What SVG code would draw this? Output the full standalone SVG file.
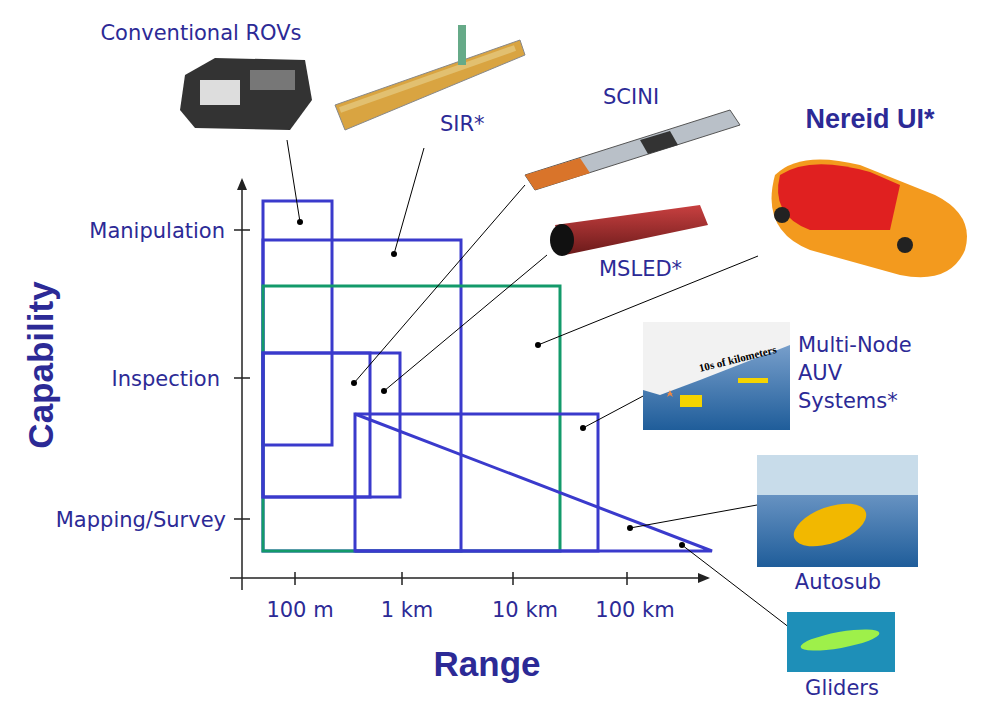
<svg xmlns="http://www.w3.org/2000/svg" width="986" height="701" viewBox="0 0 986 701">
<style>
.t{font-family:"DejaVu Sans","Liberation Sans",sans-serif;font-size:21px;fill:#2c2a96}
.k{font-family:"Liberation Sans",Arial,sans-serif;font-weight:bold;fill:#2c2a96}
.b{stroke:#3a3acc;stroke-width:3;fill:none}
.g{stroke:#139a6a;stroke-width:3;fill:none}
.l{stroke:#000;stroke-width:1}
.ax{stroke:#222;stroke-width:1.5}
</style>
<defs>
<marker id="ar" markerWidth="12" markerHeight="10" refX="10" refY="5" orient="auto" markerUnits="userSpaceOnUse"><path d="M0,0L12,5L0,10z" fill="#222"/></marker>
<linearGradient id="sea" x1="0" y1="0" x2="0" y2="1"><stop offset="0" stop-color="#8fb0d8"/><stop offset="1" stop-color="#1f5d9a"/></linearGradient>
<linearGradient id="red" x1="0" y1="0" x2="0" y2="1"><stop offset="0" stop-color="#c84040"/><stop offset="1" stop-color="#6a1a1a"/></linearGradient>
</defs>
<rect width="986" height="701" fill="#fff"/>
<g id="axes">
<line class="ax" x1="242" y1="590" x2="242" y2="180" marker-end="url(#ar)"/>
<line class="ax" x1="230" y1="578" x2="708" y2="578" marker-end="url(#ar)"/>
<path class="ax" d="M234,230H250M234,378H250M234,519H250M295,572V585M402,572V585M513,572V585M627,572V585"/>
<text class="t" x="225" y="238" text-anchor="end">Manipulation</text>
<text class="t" x="220" y="386" text-anchor="end">Inspection</text>
<text class="t" x="226" y="527" text-anchor="end">Mapping/Survey</text>
<text class="t" x="300" y="617" text-anchor="middle">100 m</text>
<text class="t" x="407" y="617" text-anchor="middle">1 km</text>
<text class="t" x="525" y="617" text-anchor="middle">10 km</text>
<text class="t" x="635" y="617" text-anchor="middle">100 km</text>
<text class="k" x="487" y="676" text-anchor="middle" font-size="35">Range</text>
<text class="k" transform="translate(53,365) rotate(-90)" text-anchor="middle" font-size="35">Capability</text>
</g>
<g id="regions">
<rect class="b" x="263" y="201" width="69" height="244"/>
<rect class="b" x="263" y="240" width="198" height="311"/>
<rect class="g" x="263" y="286" width="297" height="265"/>
<rect class="b" x="263" y="353" width="137" height="144"/>
<rect class="b" x="263" y="353" width="107" height="144"/>
<rect class="b" x="355" y="414" width="243" height="137"/>
<polyline class="b" points="355,414 712,551 355,551"/>
</g>
<g id="connectors">
<path class="l" d="M300,222L287,140M394,254L424,148M354,383L525,185M384,391L547,255M538,345L758,256M583,428L645,395M630,528L757,505M682,545L790,628"/>
<g fill="#000"><circle cx="300" cy="222" r="3"/><circle cx="394" cy="254" r="3"/><circle cx="354" cy="383" r="3"/><circle cx="384" cy="391" r="3"/><circle cx="538" cy="345" r="3"/><circle cx="583" cy="428" r="3"/><circle cx="630" cy="528" r="3"/><circle cx="682" cy="545" r="3"/></g>
</g>
<g id="rov"><text class="t" x="201" y="40" text-anchor="middle">Conventional ROVs</text>
<path d="M185,75L215,58L305,60L312,100L290,130L195,128L180,110z" fill="#333"/><rect x="200" y="80" width="40" height="25" fill="#ddd"/><rect x="250" y="70" width="45" height="20" fill="#777"/></g>
<g id="sir"><text class="t" x="440" y="131">SIR*</text>
<path d="M335,105L520,40L525,55L345,130z" fill="#d9a441" stroke="#888"/><path d="M340,110L515,48" stroke="#e2c070" stroke-width="6"/><rect x="458" y="25" width="8" height="40" fill="#6a8"/></g>
<g id="scini"><text class="t" x="603" y="104">SCINI</text>
<path d="M525,175L730,110L740,125L535,190z" fill="#b9c0c8" stroke="#555"/><path d="M525,175L580,158L590,173L535,190z" fill="#d9742a"/><path d="M640,140L670,131L678,145L648,154z" fill="#333"/></g>
<g id="msled"><text class="t" x="599" y="276">MSLED*</text>
<path d="M555,225L700,205L708,225L565,255z" fill="url(#red)"/><ellipse cx="562" cy="240" rx="12" ry="16" fill="#111"/></g>
<g id="nereid"><text class="k" x="870" y="128" text-anchor="middle" font-size="27">Nereid UI*</text>
<path d="M775,175Q800,150 860,165L935,195Q975,215 965,250Q950,285 900,275L810,250Q760,230 775,175z" fill="#f39a1e"/><path d="M780,175Q810,155 870,172L900,185L890,230L810,230Q770,215 780,175z" fill="#e02020"/><circle cx="782" cy="215" r="8" fill="#222"/><circle cx="905" cy="245" r="8" fill="#222"/></g>
<g id="multinode"><rect x="643" y="322" width="147" height="108" fill="url(#sea)"/><path d="M643,322H790V345L700,380L660,395L643,390z" fill="#f2f2f2"/><text x="700" y="372" style="font-family:'Liberation Serif',serif;font-size:11px;font-weight:bold" transform="rotate(-14 700 372)">10s of kilometers</text><rect x="680" y="395" width="22" height="12" fill="#f5d400"/><rect x="738" y="378" width="30" height="5" fill="#f5d400"/><path d="M667,397l3,-7l3,7l-6,-4h6z" fill="#e84"/>
<text class="t" x="798" y="352">Multi-Node</text><text class="t" x="798" y="380">AUV</text><text class="t" x="798" y="408">Systems*</text></g>
<g id="autosub"><rect x="757" y="455" width="161" height="112" fill="url(#sea)"/><rect x="757" y="455" width="161" height="40" fill="#c8dcea"/><ellipse cx="830" cy="525" rx="38" ry="18" fill="#f2b800" transform="rotate(-20 830 525)"/><text class="t" x="838" y="589" text-anchor="middle">Autosub</text></g>
<g id="gliders"><rect x="787" y="612" width="108" height="60" fill="#1e8fb8"/><ellipse cx="840" cy="640" rx="40" ry="8" fill="#9ef04a" transform="rotate(-10 840 640)"/><text class="t" x="842" y="695" text-anchor="middle">Gliders</text></g>
</svg>
